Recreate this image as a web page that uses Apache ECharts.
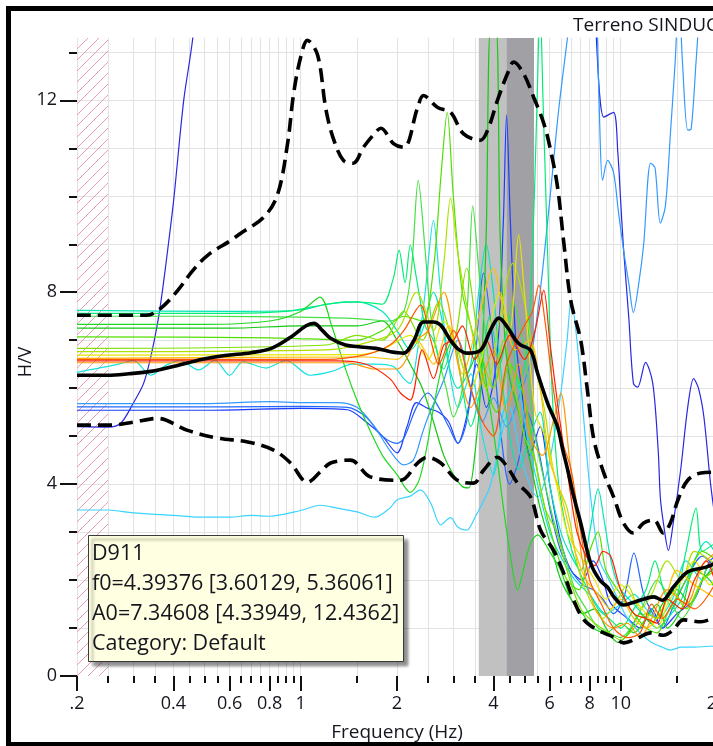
<!DOCTYPE html>
<html><head><meta charset="utf-8">
<script src="https://cdn.jsdelivr.net/npm/echarts@6/dist/echarts.min.js"></script>
<style>html,body{margin:0;padding:0;background:#fff}#c{width:713px;height:746px}</style>
</head><body><div id="c"></div>
<script>
// ---- axes / ticks ----
const FREQ_LABEL_VALUES = [0.2, 0.4, 0.6, 0.8, 1, 2, 4, 6, 8, 10, 20];
const FREQ_LABEL_TEXT = ['.2', '0.4', '0.6', '0.8', '1', '2', '4', '6', '8', '10', '20'];
const FREQ_MINOR_VALUES = [0.2,0.25,0.3,0.35,0.4,0.45,0.5,0.55,0.6,0.65,0.7,0.75,0.8,0.85,0.9,0.95,1,1.5,2,2.5,3,3.5,4,4.5,5,5.5,6,6.5,7,7.5,8,8.5,9,9.5,10,15,20];
const HV_LABEL_VALUES = [0, 4, 8, 12];
const HV_MINOR_VALUES = [0,1,2,3,4,5,6,7,8,9,10,11,12,13];
const FREQ_RANGE = [0.2, 20];
const HV_RANGE = [0, 13.3];
const FILTER_BAND = [0.2, 0.25];
const F0_BAND = [3.60129, 4.39376, 5.36061];
const INFO_LINES = ['D911', 'f0=4.39376 [3.60129, 5.36061]', 'A0=7.34608 [4.33949, 12.4362]', 'Category: Default'];
const TITLE_TEXT = 'Terreno SINDUC';

// ---- average and standard deviation curves [f, H/V] ----
const MEAN = [[0.2,6.27],[0.25,6.27],[0.29,6.3],[0.34,6.35],[0.41,6.47],[0.49,6.6],[0.58,6.68],[0.7,6.74],[0.81,6.83],[0.93,7.06],[1.04,7.3],[1.1,7.35],[1.17,7.2],[1.24,7.04],[1.38,6.9],[1.54,6.86],[1.72,6.83],[1.91,6.76],[2.1,6.73],[2.26,7.0],[2.42,7.38],[2.6,7.38],[2.74,7.31],[2.94,7.0],[3.1,6.82],[3.32,6.73],[3.65,6.79],[3.92,7.21],[4.16,7.46],[4.43,7.27],[4.7,7.0],[4.87,6.9],[5.23,6.79],[5.5,6.31],[5.91,5.69],[6.35,5.19],[6.6,4.7],[6.83,4.3],[7.1,3.8],[7.5,3.19],[8.06,2.35],[8.6,2.0],[9.1,1.85],[9.6,1.62],[10.2,1.48],[10.8,1.52],[11.5,1.58],[12.7,1.65],[13.5,1.58],[14.6,1.85],[16.2,2.17],[18.5,2.27],[20,2.37]];
const UPPER = [[0.2,7.52],[0.33,7.52],[0.366,7.67],[0.413,8.04],[0.46,8.45],[0.512,8.77],[0.605,9.08],[0.65,9.23],[0.766,9.56],[0.847,10.04],[0.91,11.1],[0.951,12.15],[1.0,12.9],[1.05,13.25],[1.13,12.94],[1.2,11.8],[1.27,11.17],[1.36,10.75],[1.46,10.69],[1.57,11.02],[1.74,11.38],[1.78,11.42],[1.95,11.1],[2.1,11.02],[2.32,11.85],[2.42,12.1],[2.68,11.85],[2.94,11.75],[3.23,11.3],[3.65,11.17],[3.84,11.38],[4.12,12.0],[4.43,12.56],[4.63,12.8],[4.97,12.56],[5.35,12.06],[5.75,11.52],[6.04,10.96],[6.35,10.19],[6.63,9.08],[6.98,7.83],[7.5,7.0],[7.87,5.96],[8.25,4.92],[8.86,4.23],[9.51,3.73],[10.2,3.19],[10.96,2.98],[11.8,3.19],[12.7,3.25],[13.6,2.98],[14.3,3.19],[15.1,3.67],[16.2,4.08],[17.8,4.23],[20,4.25]];
const LOWER = [[0.2,5.23],[0.255,5.23],[0.3,5.29],[0.357,5.37],[0.443,5.12],[0.55,4.96],[0.683,4.88],[0.823,4.71],[0.93,4.44],[1.05,4.04],[1.15,4.25],[1.24,4.44],[1.43,4.5],[1.65,4.15],[2.05,4.08],[2.32,4.44],[2.49,4.56],[2.74,4.44],[3.09,4.08],[3.47,4.02],[3.73,4.29],[4.12,4.56],[4.43,4.35],[4.76,4.02],[5.23,3.73],[5.62,3.04],[6.17,2.62],[6.63,2.15],[7.13,1.58],[7.68,1.17],[8.46,0.96],[9.51,0.81],[10.2,0.69],[11.3,0.79],[12.4,0.9],[13.6,0.85],[14.6,0.96],[15.7,1.17],[17.8,1.13],[20,1.25]];

// ---- individual windows [f, H/V] ----
const W01 = [[0.2,6.57],[1.3,6.57],[1.6,6.5],[1.9,6.2],[2.05,5.9],[2.2,5.75],[2.4,6.8],[2.6,6.2],[2.8,6.9],[3.0,7.0],[3.2,7.3],[3.5,6.6],[3.8,7.0],[4.1,6.5],[4.5,7.1],[5.0,6.6],[5.4,7.2],[5.75,8.04],[6.0,7.0],[6.4,5.5],[6.9,4.0],[7.3,3.0],[7.8,2.5],[8.3,2.3],[8.8,2.6],[9.3,2.5],[10,1.8],[11,1.3],[12,1.2],[13,1.1],[14,1.6],[15.5,1.4],[17,2.0],[18.5,2.4],[20,1.8]];
const W02 = [[0.2,6.6],[1.2,6.6],[1.6,6.7],[1.9,6.9],[2.1,7.2],[2.37,7.73],[2.55,7.0],[2.7,6.5],[3.0,7.2],[3.4,6.0],[3.7,5.3],[4.0,5.0],[4.4,6.5],[5.0,7.3],[5.3,7.6],[5.55,8.15],[5.8,7.4],[6.1,6.2],[6.5,5.0],[7.0,4.3],[7.5,3.0],[8.0,2.0],[8.7,1.5],[9.5,1.0],[10.5,0.8],[11.5,0.9],[12.5,1.5],[13.5,1.2],[15,1.6],[17,1.4],[20,2.0]];
const W03 = [[0.2,6.53],[1.4,6.53],[1.7,6.4],[2.0,6.4],[2.3,7.0],[2.5,7.2],[2.8,8.0],[3.1,6.5],[3.4,5.6],[3.7,6.2],[4.0,6.8],[4.4,5.5],[4.8,6.5],[5.2,5.0],[5.7,4.6],[6.2,5.4],[6.5,5.9],[6.9,4.6],[7.3,3.2],[7.8,2.0],[8.5,1.3],[9.5,1.0],[10.5,1.1],[11.5,0.8],[12.5,1.2],[14,1.8],[16,1.5],[18,2.3],[20,2.6]];
const W04 = [[0.2,6.62],[1.6,6.65],[2.0,6.6],[2.3,7.0],[2.6,6.5],[2.9,7.3],[3.2,6.3],[3.6,7.5],[4.0,8.5],[4.3,7.6],[4.7,6.8],[5.2,7.0],[5.6,6.0],[6.0,4.5],[6.5,3.8],[7.2,2.6],[7.8,2.0],[8.5,1.7],[9.3,1.4],[10,1.6],[11,1.2],[12,1.0],[13.5,1.4],[15,2.2],[17,1.9],[20,1.6]];
const W05 = [[0.2,6.69],[1.5,6.7],[1.8,6.8],[2.2,7.1],[2.5,6.6],[2.8,7.4],[3.1,6.8],[3.4,6.0],[3.8,7.0],[4.2,8.0],[4.5,7.2],[4.8,9.2],[5.0,8.0],[5.4,5.5],[5.8,5.0],[6.3,4.0],[6.8,3.0],[7.5,2.5],[8.3,2.0],[9.0,1.6],[10,1.9],[11,1.6],[12,1.3],[13,1.0],[14,1.5],[15.5,2.0],[17,2.4],[19,1.9],[20,2.1]];
const W06 = [[0.2,6.76],[1.2,6.8],[1.5,6.9],[2.0,7.2],[2.3,8.0],[2.6,7.2],[2.8,8.6],[2.94,9.96],[3.1,8.8],[3.4,7.3],[3.8,6.0],[4.2,7.5],[4.6,8.6],[5.0,7.8],[5.4,6.5],[5.8,5.5],[6.2,4.2],[6.8,3.5],[7.4,2.2],[8.0,1.6],[8.8,1.2],[9.6,1.5],[10.5,1.9],[11.5,1.4],[12.5,1.7],[14,2.4],[15.5,2.0],[17,2.6],[20,2.3]];
const W07 = [[0.2,6.83],[1.2,6.9],[1.5,7.1],[1.8,7.0],[2.1,7.6],[2.4,7.0],[2.7,7.8],[3.0,7.0],[3.3,8.5],[3.6,7.0],[4.0,6.0],[4.3,7.0],[4.6,6.2],[5.0,5.0],[5.4,4.5],[5.8,3.5],[6.3,3.0],[6.8,2.2],[7.5,1.4],[8.3,1.1],[9.2,0.9],[10,0.75],[11,1.0],[12,1.3],[13,1.2],[14.5,1.8],[16,1.4],[18,2.0],[20,2.2]];
const W08 = [[0.2,7.07],[0.8,7.05],[1.5,7.0],[1.8,7.2],[2.1,7.5],[2.4,7.4],[2.6,8.5],[2.75,10.5],[2.87,11.75],[3.0,10.0],[3.2,8.0],[3.5,7.0],[3.8,6.0],[4.1,5.5],[4.5,6.5],[5.0,5.8],[5.4,4.5],[5.8,3.5],[6.3,2.6],[6.8,2.0],[7.4,1.8],[8.0,2.6],[8.5,3.0],[9.0,2.2],[10,1.7],[11,1.3],[12,1.0],[13,0.9],[14,1.3],[16,2.0],[18,2.6],[20,2.4]];
const W09 = [[0.2,7.33],[0.5,7.33],[0.8,7.4],[1.0,7.6],[1.15,7.9],[1.25,7.3],[1.35,6.6],[1.45,6.0],[1.6,5.3],[1.8,4.6],[2.0,4.2],[2.2,3.83],[2.35,4.1],[2.5,4.9],[2.6,5.6],[2.8,6.6],[3.0,7.0],[3.3,6.3],[3.6,6.8],[3.9,5.6],[4.1,4.6],[4.27,3.67],[4.5,2.6],[4.76,1.79],[5.0,2.3],[5.23,2.77],[5.5,2.94],[6.04,2.56],[6.5,2.2],[7.0,1.6],[7.6,1.3],[8.2,1.0],[9.0,0.9],[10,1.1],[11,0.9],[12,1.2],[13,1.5],[14,1.0],[15.5,1.4],[17,2.2],[19,2.0],[20,1.7]];
const W10 = [[0.2,7.56],[0.6,7.56],[0.9,7.6],[1.1,7.7],[1.4,7.8],[1.65,7.78],[1.8,7.75],[1.95,8.3],[2.03,8.88],[2.12,8.2],[2.2,8.98],[2.3,8.3],[2.45,7.3],[2.6,7.0],[2.8,6.4],[3.0,7.0],[3.2,6.0],[3.4,5.2],[3.6,5.8],[3.9,7.5],[4.2,6.5],[4.5,7.5],[4.8,6.0],[5.1,6.8],[5.3,8.8],[5.48,12.0],[5.6,14.0],[5.72,12.0],[5.9,9.0],[6.1,6.0],[6.4,4.0],[6.8,3.0],[7.3,2.3],[7.9,1.8],[8.5,1.4],[9.2,1.2],[10,1.0],[11,1.4],[12,1.8],[12.8,2.4],[13.6,1.8],[14.5,1.4],[16,2.6],[17.2,3.5],[18,2.6],[20,2.8]];
const W11 = [[0.2,7.5],[0.5,7.5],[1.0,7.48],[1.5,7.45],[1.9,7.4],[2.1,7.6],[2.22,8.5],[2.33,10.33],[2.44,9.0],[2.55,7.5],[2.7,6.6],[2.85,6.0],[3.0,5.4],[3.2,6.0],[3.35,8.2],[3.45,9.8],[3.6,8.5],[3.8,7.0],[4.0,6.0],[4.3,6.8],[4.6,7.8],[5.0,6.8],[5.4,5.0],[5.8,4.0],[6.2,3.2],[6.7,2.5],[7.2,1.8],[7.8,1.4],[8.5,1.0],[9.2,0.9],[10,0.8],[11,1.1],[12,1.6],[13,2.0],[14,1.7],[15.5,1.2],[17,1.6],[19,2.3],[20,2.0]];
const W12 = [[0.2,7.25],[0.6,7.25],[1.0,7.3],[1.5,7.3],[1.8,7.4],[2.0,7.0],[2.2,6.5],[2.4,6.0],[2.6,5.3],[2.8,4.6],[3.0,4.2],[3.2,3.95],[3.35,3.92],[3.5,4.6],[3.65,6.0],[3.8,9.2],[3.92,13.5],[4.08,13.5],[4.2,9.2],[4.35,7.0],[4.5,6.2],[4.8,5.5],[5.2,4.5],[5.6,3.5],[6.0,2.8],[6.5,2.0],[7.0,1.6],[7.6,1.3],[8.3,1.4],[9.0,1.0],[9.8,0.7],[10.6,0.9],[11.5,1.3],[12.5,1.1],[13.5,1.5],[15,1.8],[16.5,1.5],[18,2.0],[20,2.3]];
const W13 = [[0.2,7.62],[0.6,7.6],[1.0,7.63],[1.2,7.75],[1.5,7.8],[1.8,7.6],[2.0,7.2],[2.2,6.8],[2.4,7.2],[2.6,8.0],[2.75,7.5],[2.9,6.5],[3.1,6.0],[3.4,6.5],[3.6,8.0],[3.8,9.0],[4.0,8.0],[4.2,6.5],[4.5,5.0],[4.8,4.3],[5.2,5.0],[5.6,5.5],[6.0,4.0],[6.5,3.0],[7.0,2.5],[7.5,2.2],[8.0,3.0],[8.5,3.9],[8.9,3.2],[9.4,2.3],[10,1.8],[11,1.5],[12,1.2],[13,1.0],[14,1.2],[15.5,1.6],[17,2.4],[18.5,2.8],[20,2.5]];
const W14 = [[0.2,6.33],[0.27,6.5],[0.3,6.58],[0.34,6.27],[0.38,6.48],[0.42,6.58],[0.48,6.38],[0.54,6.58],[0.6,6.27],[0.66,6.55],[0.78,6.42],[0.9,6.58],[1.07,6.27],[1.25,6.35],[1.45,6.5],[1.7,6.5],[1.95,6.45],[2.1,6.2],[2.2,6.1],[2.32,6.8],[2.45,8.0],[2.6,9.5],[2.72,8.2],[2.9,6.5],[3.1,5.6],[3.4,6.3],[3.7,5.0],[4.0,4.2],[4.3,5.5],[4.7,6.2],[5.1,5.0],[5.5,4.0],[6.0,3.0],[6.6,2.4],[7.2,2.0],[8.0,1.7],[9,1.3],[10,1.5],[11,1.7],[12,1.4],[13,1.2],[14.5,1.6],[16,2.4],[18,2.0],[20,2.6]];
const W15 = [[0.2,3.46],[0.25,3.46],[0.3,3.4],[0.4,3.35],[0.5,3.31],[0.6,3.31],[0.7,3.35],[0.8,3.33],[1.0,3.45],[1.15,3.56],[1.3,3.5],[1.5,3.42],[1.7,3.31],[1.9,3.5],[2.0,3.67],[2.2,3.75],[2.37,3.88],[2.55,3.6],[2.74,3.15],[2.94,3.3],[3.1,3.1],[3.3,3.04],[3.5,3.3],[3.9,3.94],[4.2,4.9],[4.5,5.6],[4.9,4.5],[5.5,3.73],[6.0,4.5],[6.5,5.9],[6.8,7.0],[7.0,7.83],[7.3,7.0],[7.7,5.2],[8.1,3.6],[8.6,2.4],[9.2,2.0],[9.8,1.6],[10.5,1.2],[11.5,0.9],[12.5,0.7],[13.5,0.6],[14.3,0.54],[15.5,0.6],[17,0.6],[19,0.62],[20,0.62]];
const W16 = [[0.2,5.68],[0.5,5.68],[0.8,5.72],[1.0,5.7],[1.3,5.7],[1.5,5.6],[1.7,5.2],[1.9,4.7],[2.1,4.4],[2.25,4.5],[2.4,5.06],[2.5,5.4],[2.8,6.17],[3.1,7.0],[3.4,6.0],[3.7,5.3],[4.0,5.8],[4.4,5.2],[4.8,5.8],[5.2,6.5],[5.6,8.0],[6.0,9.9],[6.4,11.8],[6.9,13.6],[7.5,16],[8.2,16],[8.46,13.3],[8.6,11.5],[8.78,10.33],[9.1,10.75],[9.5,10.5],[9.83,9.7],[10.2,8.9],[10.6,8.19],[10.96,7.58],[11.4,8.2],[11.8,9.0],[12.4,10.69],[12.8,10.6],[13.3,9.44],[13.8,9.8],[14.3,11.3],[14.8,12.8],[15.2,14.2],[15.6,12.8],[16.2,11.38],[16.6,11.4],[17.2,12.8],[17.8,14.2],[19,16],[20,16]];
const W17 = [[0.2,5.61],[0.6,5.61],[1.0,5.62],[1.4,5.6],[1.6,5.4],[1.8,5.0],[2.0,4.85],[2.1,4.95],[2.3,5.6],[2.5,5.9],[2.7,5.6],[2.9,5.2],[3.1,4.85],[3.3,5.3],[3.5,6.5],[3.73,8.4],[3.95,7.2],[4.2,5.2],[4.5,4.0],[4.8,4.5],[5.1,5.5],[5.5,4.8],[6.0,3.5],[6.5,2.6],[7.0,2.2],[7.6,1.9],[8.2,1.8],[8.8,1.6],[9.5,1.3],[10.3,1.7],[11,2.56],[11.8,1.7],[12.6,1.3],[13.5,1.0],[14.5,1.4],[16,2.0],[18,2.5],[20,2.2]];
const W18 = [[0.2,5.54],[0.5,5.54],[1.0,5.58],[1.4,5.55],[1.6,5.3],[1.8,5.0],[2.0,4.65],[2.15,5.2],[2.3,5.7],[2.5,5.58],[2.7,5.5],[2.9,5.3],[3.1,4.85],[3.3,5.4],[3.55,6.5],[3.8,5.6],[4.1,6.6],[4.3,9.5],[4.4,11.7],[4.52,9.5],[4.7,7.0],[4.9,6.0],[5.2,4.6],[5.6,5.2],[6.0,4.0],[6.5,2.8],[7.0,2.2],[7.6,2.0],[8.2,2.4],[8.8,2.0],[9.3,1.52],[10.5,1.2],[11.5,1.0],[12.5,1.4],[13.5,1.0],[15,1.3],[17,1.6],[19,2.4],[20,2.5]];
const W19 = [[0.2,5.2],[0.25,5.19],[0.274,5.27],[0.3,5.69],[0.323,6.1],[0.34,6.65],[0.357,7.35],[0.37,8.04],[0.384,8.88],[0.401,9.92],[0.431,12.0],[0.46,13.3],[0.5,16],[8.0,16],[8.36,13.5],[8.86,11.65],[9.5,11.75],[9.8,10.9],[10,9.9],[10.2,8.94],[10.6,7.48],[10.96,6.1],[11.3,6.02],[11.96,6.54],[12.6,6.1],[13.1,4.7],[13.3,3.73],[13.6,3.19],[14.1,2.62],[14.6,3.19],[15.4,4.3],[16.2,5.6],[16.9,6.2],[17.5,6.0],[18.2,5.4],[19.1,4.0],[20,3.0]];

const WINDOWS = [W19, W18, W17, W16, W15, W14, W13, W12, W11, W10, W09, W08, W07, W06, W05, W04, W03, W02, W01];
const WINDOW_COLORS = ['#2828e0','#1c3cff','#2266ff','#3399ff','#38d4ff','#18e0e0','#00e6b4','#14c814','#44e044','#00ee77','#20d820','#50e000','#80e000','#b0e000','#e6e600','#ffc000','#ff9900','#ff5500','#ff2200'];

// ---- chart ----
const FONT = '"Open Sans", "Noto Sans", sans-serif';
const TEXT_COLOR = '#15151f';
const GRID_COLOR = '#e2e2e2';
const HATCH_COLOR = '#e79cb2';
const HATCH_STEP = 11;

function freqLabel(v) {
  for (let i = 0; i < FREQ_LABEL_VALUES.length; i++) {
    if (Math.abs(Math.log(v / FREQ_LABEL_VALUES[i])) < 1e-6) return FREQ_LABEL_TEXT[i];
  }
  return '';
}

// diagonal hatching of the filtered band, positioned through the axes
function renderHatch(params, api) {
  const pTop = api.coord([api.value(0), HV_RANGE[1]]);
  const pBot = api.coord([api.value(1), HV_RANGE[0]]);
  const x0 = pTop[0], y0 = pTop[1], x1 = pBot[0], y1 = pBot[1];
  const w = x1 - x0;
  const children = [];
  for (let yb = y0; yb <= y1 + w; yb += HATCH_STEP) {
    let xs = x0, ys = yb, xe = x1, ye = yb - w;
    if (ys > y1) { xs = x0 + (ys - y1); ys = y1; }
    if (ye < y0) { xe = x0 + (yb - y0); ye = y0; }
    if (xe - xs < 0.5) continue;
    children.push({type: 'line', shape: {x1: xs, y1: ys, x2: xe, y2: ye},
      style: {stroke: HATCH_COLOR, lineWidth: 1}});
  }
  return {type: 'group', children: children};
}

const chart = echarts.init(document.getElementById('c'), null, {renderer: 'canvas'});

const series = [];
series.push({
  type: 'line', data: [], xAxisIndex: 0, yAxisIndex: 0, silent: true,
  markLine: {
    silent: true, z: 0, symbol: ['none', 'none'], label: {show: false},
    lineStyle: {type: 'solid', color: GRID_COLOR, width: 1},
    emphasis: {disabled: true},
    data: FREQ_MINOR_VALUES.map(f => ({xAxis: f})).concat(HV_MINOR_VALUES.filter(v => v > 0).map(v => ({yAxis: v})))
  }
});
series.push({
  type: 'line', data: [], xAxisIndex: 0, yAxisIndex: 0, silent: true,
  markArea: {
    silent: true, z: 1,
    emphasis: {disabled: true},
    data: [
      [{xAxis: F0_BAND[0], itemStyle: {color: '#c1c1c1'}}, {xAxis: F0_BAND[1]}],
      [{xAxis: F0_BAND[1], itemStyle: {color: '#a1a1a5'}}, {xAxis: F0_BAND[2]}]
    ]
  }
});
series.push({
  type: 'custom', xAxisIndex: 0, yAxisIndex: 0, silent: true, z: 1, clip: true,
  data: [[FILTER_BAND[0], FILTER_BAND[1]]],
  renderItem: renderHatch
});
WINDOWS.forEach((d, i) => {
  series.push({
    type: 'line', data: d, xAxisIndex: 0, yAxisIndex: 0, symbol: 'none', smooth: 0.3,
    silent: true, z: 3, clip: true,
    lineStyle: {color: WINDOW_COLORS[i], width: 1.2}
  });
});
[[UPPER, [14, 7]], [LOWER, [14, 7]], [MEAN, 'solid']].forEach(([d, t]) => {
  series.push({
    type: 'line', data: d, xAxisIndex: 0, yAxisIndex: 0, symbol: 'none', smooth: 0.35,
    silent: true, z: 5, clip: true,
    lineStyle: {color: '#000', width: 3.6, type: t}
  });
});

const tickStyle = {color: '#111', width: 2};
const option = {
  animation: false,
  backgroundColor: '#fff',
  grid: {left: 77, top: 38, width: 640, height: 638, containLabel: false, outerBoundsMode: 'none'},
  xAxis: [
    {type: 'log', logBase: 10, min: FREQ_RANGE[0], max: FREQ_RANGE[1], position: 'bottom',
     axisLine: {show: false}, splitLine: {show: false}, minorTick: {show: false},
     axisTick: {customValues: FREQ_LABEL_VALUES, length: 15, lineStyle: tickStyle},
     axisLabel: {customValues: FREQ_LABEL_VALUES, formatter: freqLabel, margin: 19, fontSize: 18, fontFamily: FONT, color: TEXT_COLOR}},
    {type: 'log', logBase: 10, min: FREQ_RANGE[0], max: FREQ_RANGE[1], position: 'bottom',
     axisLine: {show: false}, splitLine: {show: false}, axisLabel: {show: false},
     axisTick: {customValues: FREQ_MINOR_VALUES, length: 7, lineStyle: tickStyle}}
  ],
  yAxis: [
    {type: 'value', min: HV_RANGE[0], max: HV_RANGE[1], position: 'left',
     axisLine: {show: false}, splitLine: {show: false},
     axisTick: {customValues: HV_LABEL_VALUES, length: 17, lineStyle: tickStyle},
     axisLabel: {customValues: HV_LABEL_VALUES, margin: 20, fontSize: 18, fontFamily: FONT, color: TEXT_COLOR}},
    {type: 'value', min: HV_RANGE[0], max: HV_RANGE[1], position: 'left',
     axisLine: {show: false}, splitLine: {show: false}, axisLabel: {show: false},
     axisTick: {customValues: HV_MINOR_VALUES, length: 8, lineStyle: tickStyle}}
  ],
  series: series,
  graphic: [
    {type: 'text', x: 573, y: 26, z: 50, style: {text: TITLE_TEXT, font: '19px ' + FONT, fill: TEXT_COLOR, verticalAlign: 'middle'}},
    {type: 'text', x: 26, y: 362, rotation: Math.PI / 2, z: 50, style: {text: 'H/V', font: '18px ' + FONT, fill: TEXT_COLOR, align: 'center', verticalAlign: 'middle'}},
    {type: 'text', x: 397, y: 733, z: 50, style: {text: 'Frequency (Hz)', font: '19px ' + FONT, fill: TEXT_COLOR, align: 'center', verticalAlign: 'middle'}},
    {type: 'rect', z: 60, shape: {x: 88.5, y: 535.5, width: 315, height: 126},
     style: {fill: '#ffffe1', stroke: '#3a3a3a', lineWidth: 1, shadowBlur: 3, shadowOffsetX: 4, shadowOffsetY: 4, shadowColor: 'rgba(0,0,0,0.45)'}},
    ...INFO_LINES.map((t, i) => ({type: 'text', z: 61, x: 92, y: 554 + i * 30,
      style: {text: t, font: '21.5px ' + FONT, fill: TEXT_COLOR, verticalAlign: 'middle'}})),
    {type: 'rect', z: 70, shape: {x: 8.5, y: 8.5, width: 760, height: 736},
     style: {fill: 'none', stroke: '#000', lineWidth: 5}}
  ]
};
chart.setOption(option);
</script>
</body></html>
